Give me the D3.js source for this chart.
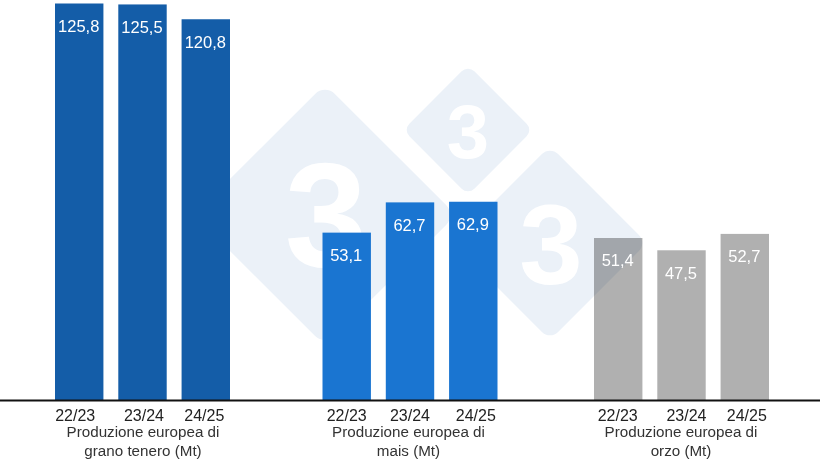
<!DOCTYPE html>
<html><head><meta charset="utf-8">
<script src="https://cdn.jsdelivr.net/npm/d3@7/dist/d3.min.js"></script>
<style>
html,body{margin:0;padding:0;background:#fff}
svg{display:block}
text{font-family:"Liberation Sans",Arial,sans-serif}
</style></head><body>
<svg id="c" width="820" height="461"></svg>
<script>
const seasons = ["22/23","23/24","24/25"];
const groups = ["grano","mais","orzo"];
const wheatValues = [125.8,125.5,120.8];
const maizeValues = [53.1,62.7,62.9];
const barleyValues = [51.4,47.5,52.7];
const valueLabels = [["125,8","125,5","120,8"],["53,1","62,7","62,9"],["51,4","47,5","52,7"]];
const captionLines = [["Produzione europea di","grano tenero (Mt)"],["Produzione europea di","mais (Mt)"],["Produzione europea di","orzo (Mt)"]];
const seriesValues = [wheatValues,maizeValues,barleyValues];

const W=820,H=461,baseY=400;
const svg=d3.select("#c");
const colors=d3.scaleOrdinal().domain(groups).range(["#145da8","#1a75d1","#b0b0b0"]);
const y=d3.scaleLinear().domain([0,125.8]).range([baseY,3.5]);
const groupLeft=d3.scaleOrdinal().domain(groups).range([55,322.5,594]);
const band=d3.scaleBand().domain(seasons).range([0,175]).paddingInner(0.235);
const tickShift=[[-4,1.5,-1.5],[0,0,2.5],[-0.5,5,2]];
const captionX=[143,408.5,681];

// watermark sits behind the bars
const marks=[{cx:325,cy:215,r:131,fs:148,tx:326,base:266},{cx:468,cy:130,r:65,fs:76,tx:468,base:157.5},{cx:550,cy:243,r:97,fs:114,tx:551,base:284}];
const wm=svg.append("g");
const rc=d3.scaleLinear().domain([65,131]).range([9,14]);
wm.selectAll("rect").data(marks).join("rect")
  .attr("x",d=>d.cx-d.r*Math.SQRT1_2).attr("y",d=>d.cy-d.r*Math.SQRT1_2)
  .attr("width",d=>d.r*Math.SQRT2).attr("height",d=>d.r*Math.SQRT2)
  .attr("rx",d=>rc(d.r)).attr("fill","#ebf1f8")
  .attr("transform",d=>`rotate(45 ${d.cx} ${d.cy})`);
wm.selectAll("text").data(marks).join("text")
  .attr("x",d=>d.tx).attr("y",d=>d.base)
  .attr("text-anchor","middle").attr("font-size",d=>d.fs).attr("font-weight",700)
  .attr("fill","#fff").text("3");

groups.forEach((g,gi)=>{
  const layer=svg.append("g").attr("transform",`translate(${groupLeft(g)},0)`);
  const data=seasons.map((s,i)=>({s,v:seriesValues[gi][i],label:valueLabels[gi][i],i}));
  layer.selectAll("rect").data(data).join("rect")
    .attr("x",d=>band(d.s)).attr("width",band.bandwidth())
    .attr("y",d=>y(d.v)).attr("height",d=>baseY-y(d.v))
    .attr("fill",colors(g))
    .style("mix-blend-mode",g==="orzo"?"multiply":null);
  layer.selectAll("text.val").data(data).join("text").attr("class","val")
    .attr("x",d=>band(d.s)+band.bandwidth()/2-0.5).attr("y",d=>y(d.v)+28.5)
    .attr("text-anchor","middle").attr("font-size",16.5).attr("fill","#fff")
    .text(d=>d.label);
  layer.selectAll("text.tick").data(data).join("text").attr("class","tick")
    .attr("x",d=>band(d.s)+band.bandwidth()/2+tickShift[gi][d.i]).attr("y",420.5)
    .attr("text-anchor","middle").attr("font-size",16).attr("fill","#222")
    .text(d=>d.s);
  svg.append("g").selectAll("text").data(captionLines[gi]).join("text")
    .attr("x",captionX[gi]).attr("y",(d,i)=>437+i*19)
    .attr("text-anchor","middle").attr("font-size",15.2).attr("fill","#333")
    .text(d=>d);
});

svg.append("line").attr("x1",0).attr("x2",W).attr("y1",400.5).attr("y2",400.5)
  .attr("stroke","#111").attr("stroke-width",2);
</script></body></html>
